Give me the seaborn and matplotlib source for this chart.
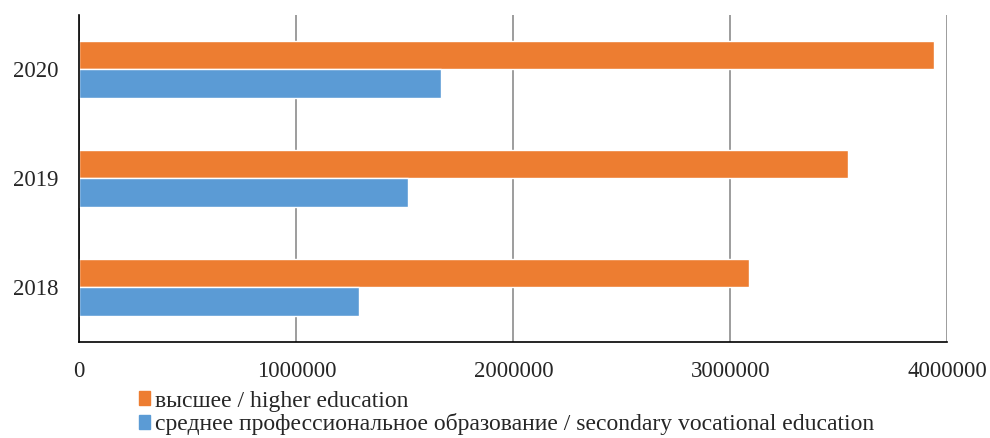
import pandas as pd
import numpy as np
import seaborn as sns
import matplotlib.pyplot as plt
from matplotlib.patches import Patch

years = ['2020', '2019', '2018']
series = ['высшее / higher education',
          'среднее профессиональное образование / secondary vocational education']
higher = [3937000, 3542000, 3085000]
secondary = [1665000, 1515000, 1290000]
x_ticks = [0, 1000000, 2000000, 3000000, 4000000]
colors = ['#ED7D31', '#5B9BD5']

df = pd.DataFrame({
    'year': years * 2,
    'level': [series[0]] * 3 + [series[1]] * 3,
    'value': higher + secondary,
})

sns.set_style('white')
plt.rcParams['font.family'] = ['Liberation Serif', 'DejaVu Serif']

fig = plt.figure(figsize=(9.9, 4.38), dpi=100)
ax = fig.add_axes([0.0801, 0.2192, 0.8768, 0.7472])

sns.barplot(data=df, x='value', y='year', hue='level', order=years,
            hue_order=series, palette=colors, orient='h', width=0.52,
            saturation=1, ax=ax, legend=False)

ax.set_xlim(0, 4000000)
ax.set_xticks(x_ticks)
ax.set_xticklabels([str(t) for t in x_ticks])
ax.xaxis.grid(True, color='#8c8c8c', linewidth=1.2)
ax.set_axisbelow(True)
ax.set_xlabel('')
ax.set_ylabel('')
for s in ['top', 'right']:
    ax.spines[s].set_visible(False)
ax.spines['left'].set_color('black')
ax.spines['bottom'].set_color('black')
ax.spines['left'].set_linewidth(1.2)
ax.spines['bottom'].set_linewidth(1.2)
ax.tick_params(axis='both', length=0, labelsize=16.5)
ax.tick_params(axis='x', pad=14)
ax.tick_params(axis='y', pad=15)

# legend sits under the axis, close to the bottom edge
handles = [Patch(color=c) for c in colors]
fig.legend(handles, series, loc='lower left', bbox_to_anchor=(0.128, -0.021),
           frameon=False, fontsize=17, handlelength=0.5, handleheight=0.5,
           handletextpad=0.2, labelspacing=0.08, borderpad=0)

fig.savefig('out.png', dpi=100)
